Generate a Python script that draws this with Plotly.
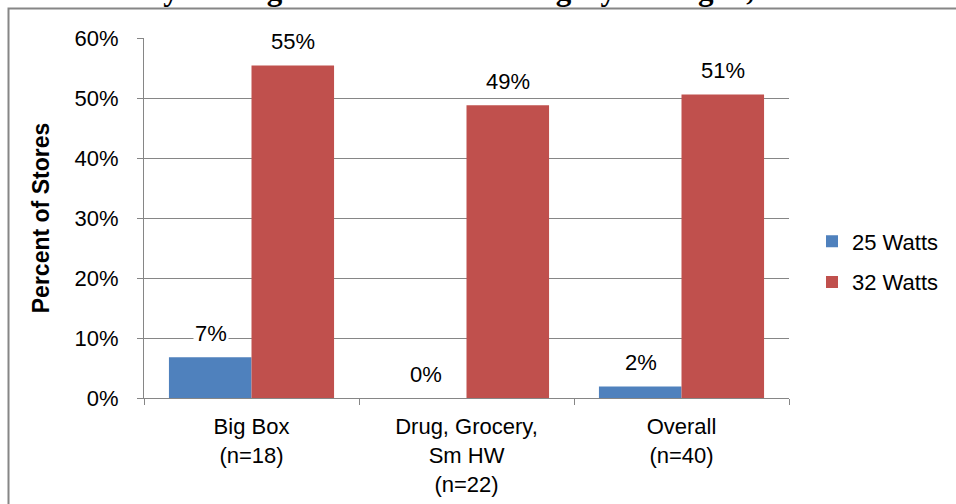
import plotly.graph_objects as go

categories = ["Big Box<br>(n=18)", "Drug, Grocery,<br>Sm HW<br>(n=22)", "Overall<br>(n=40)"]
watts_25 = [6.8, 0.0, 1.9]
watts_32 = [55.4, 48.8, 50.6]
series_names = ["25 Watts", "32 Watts"]
colors = ["#4F81BD", "#C0504D"]
y_ticks = [0, 10, 20, 30, 40, 50, 60]
y_tick_labels = ["0%", "10%", "20%", "30%", "40%", "50%", "60%"]
title_text = "by Wattage Bin and Store Category \u2013 Oregon, 2012"

FONT = "Arial, Liberation Sans, sans-serif"
FS = 22
W, H = 956, 504
L, R, T, B = 144, 167, 38, 106
pw, ph = W - L - R, H - T - B

fig = go.Figure()
for name, vals, col in zip(series_names, [watts_25, watts_32], colors):
    fig.add_trace(go.Bar(x=categories, y=vals, name=name, marker=dict(color=col, line=dict(width=0)),
                         legendgroup=name))

annotations = []
for i, vals in enumerate([watts_25, watts_32]):
    shift = -41 if i == 0 else 41
    for c, v in zip(categories, vals):
        annotations.append(dict(x=c, y=v, xref="x", yref="y", text=f"{round(v)}%", showarrow=False,
                                xshift=shift, yshift=24, yanchor="middle", bgcolor="white",
                                font=dict(family=FONT, size=FS, color="black")))

annotations.append(dict(x=(485 - L) / pw, y=1 + (T - 9) / ph, xref="paper", yref="paper", text="<b>" + title_text + "</b>",
                        showarrow=False, xanchor="center", yanchor="bottom",
                        font=dict(family="Times New Roman, Liberation Serif, serif", size=31, color="black")))

fig.update_layout(
    width=W, height=H, margin=dict(l=L, r=R, t=T, b=B, autoexpand=False),
    paper_bgcolor="white", plot_bgcolor="white",
    barmode="group", bargap=0.232, bargroupgap=0,
    font=dict(family=FONT, size=FS, color="black"),
    annotations=annotations,
    showlegend=True,
    legend=dict(x=(812 - L) / pw, y=(T + ph - 262) / ph, xanchor="left", yanchor="middle", traceorder="grouped",
                tracegroupgap=9, font=dict(family=FONT, size=FS, color="black"), bgcolor="rgba(0,0,0,0)"),
    shapes=[dict(type="rect", xref="paper", yref="paper",
                 x0=(8.5 - L) / pw, x1=(975 - L) / pw, y0=(T + ph - 530) / ph, y1=1 + (T - 8.5) / ph,
                 line=dict(color="#868686", width=2), fillcolor="rgba(0,0,0,0)", layer="below")],
)
fig.update_yaxes(range=[0, 60], tickvals=y_ticks, ticktext=y_tick_labels, showgrid=True, gridcolor="#868686", gridwidth=1,
                 showline=True, linecolor="#868686", linewidth=1, ticks="outside", ticklen=6, tickcolor="#868686",
                 tickfont=dict(family=FONT, size=FS), zeroline=False, ticklabelstandoff=14, automargin=False,
                 title=dict(text="<b>Percent of Stores</b>", font=dict(family=FONT, size=23), standoff=18))
fig.update_xaxes(showline=True, linecolor="#868686", linewidth=1, ticks="outside", ticklen=6, tickcolor="#868686",
                 tickson="boundaries", tickfont=dict(family=FONT, size=FS), showgrid=False, ticklabelstandoff=9,
                 automargin=False)

fig.write_html("out.html")
